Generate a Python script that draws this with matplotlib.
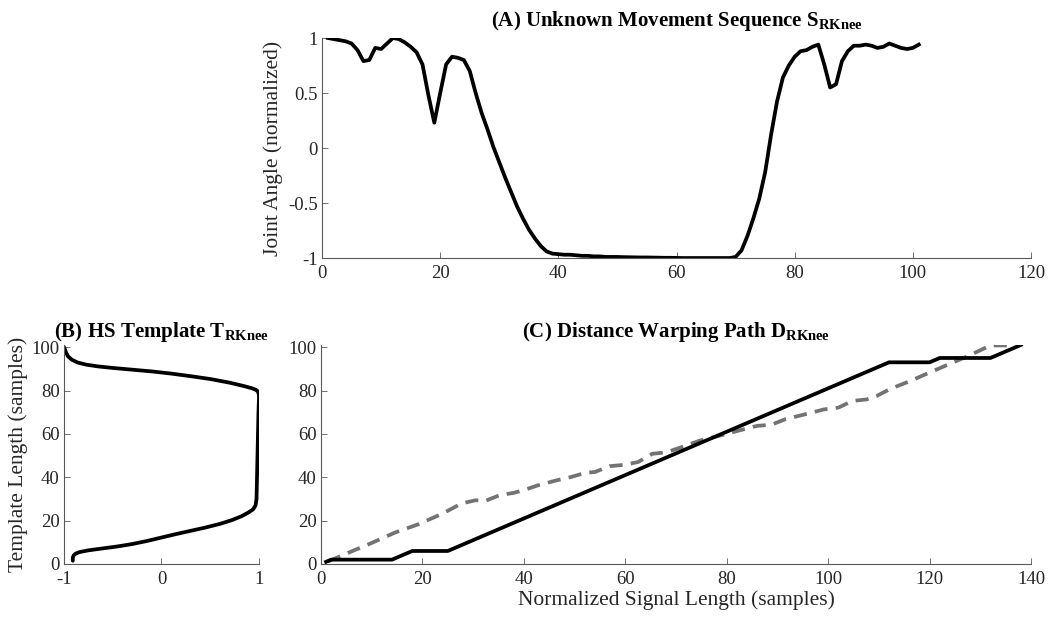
import numpy as np
import matplotlib
matplotlib.use('Agg')
import matplotlib.pyplot as plt

plt.rcParams['font.family'] = 'Liberation Serif'
plt.rcParams['mathtext.fontset'] = 'custom'
plt.rcParams['mathtext.rm'] = 'Liberation Serif'
plt.rcParams['mathtext.bf'] = 'Liberation Serif:bold'
plt.rcParams['axes.unicode_minus'] = False

# (A) unknown movement sequence, samples 1..101
seq_x = np.arange(1, 102)
seq_y = [1.00, 0.99, 0.98, 0.97, 0.95, 0.89, 0.79, 0.80, 0.91, 0.90,
         0.95, 1.00, 0.99, 0.96, 0.92, 0.87, 0.76, 0.48, 0.23, 0.50,
         0.76, 0.83, 0.82, 0.80, 0.70, 0.50, 0.32, 0.17, 0.01, -0.13,
         -0.27, -0.40, -0.53, -0.64, -0.74, -0.82, -0.89, -0.94, -0.96, -0.965,
         -0.97, -0.97, -0.975, -0.98, -0.98, -0.985, -0.985, -0.99, -0.99, -0.99,
         -0.992, -0.993, -0.994, -0.995, -0.995, -0.996, -0.997, -0.998, -0.998, -0.999,
         -1.0, -1.0, -1.0, -1.0, -1.0, -1.0, -1.0, -1.0, -1.0, -0.99,
         -0.93, -0.80, -0.64, -0.46, -0.22, 0.12, 0.42, 0.64, 0.75, 0.83,
         0.88, 0.89, 0.92, 0.94, 0.76, 0.55, 0.58, 0.79, 0.88, 0.93,
         0.93, 0.94, 0.93, 0.91, 0.92, 0.95, 0.93, 0.91, 0.90, 0.91,
         0.94]

# (B) HS template (angle vs template sample)
tmpl_x = [-0.91, -0.91, -0.90, -0.88, -0.84, -0.75, -0.60, -0.45, -0.30, -0.15,
          0.00, 0.15, 0.30, 0.45, 0.60, 0.72, 0.82, 0.89, 0.94, 0.965,
          0.975, 0.98, 0.985, 0.99, 0.995, 1.00, 1.00, 0.99, 0.97, 0.93,
          0.85, 0.70, 0.50, 0.30, 0.10, -0.10, -0.30, -0.50, -0.65, -0.77,
          -0.86, -0.92, -0.96, -0.98, -1.00]
tmpl_y = [1.5, 3.0, 4.0, 4.8, 5.5, 6.3, 7.2, 8.1, 9.2, 10.6,
          12.2, 13.8, 15.3, 16.8, 18.5, 20.2, 22.0, 23.7, 25.2, 27.0,
          30.0, 40.0, 50.0, 60.0, 70.0, 76.0, 78.0, 79.5, 80.3, 81.0,
          82.0, 83.6, 85.3, 86.6, 87.8, 88.8, 89.6, 90.4, 91.1, 91.9,
          92.9, 94.2, 95.8, 97.6, 100.0]

# (C) warping paths
path_x = [1, 2, 14, 18, 25, 112, 120, 122, 132, 138]
path_y = [1, 2, 2, 6, 6, 93, 93, 95, 95, 101]
dash_x = [1.4, 5.2, 9.9, 14.6, 19.3, 24.0, 27.7, 30.5, 32.3, 35.2, 38.0, 39.9,
          42.8, 46.5, 49.3, 52.2, 54.0, 56.9, 59.7, 62.5, 65.3, 68.1, 71.0,
          74.7, 78.5, 82.2, 86.0, 88.8, 91.6, 95.4, 99.2, 102.0, 104.8, 107.6,
          109.5, 112.3, 116.1, 119.8, 123.6, 127.4, 130.2, 132.0, 134.9, 136.8]
dash_y = [1.2, 5.0, 9.6, 14.5, 18.4, 23.3, 27.9, 29.4, 29.0, 31.7, 32.8, 34.0,
          36.3, 38.6, 40.1, 42.1, 42.4, 45.1, 45.7, 47.0, 50.8, 51.5, 53.8,
          56.9, 59.1, 61.4, 63.7, 64.2, 66.8, 69.0, 71.3, 72.1, 75.2, 75.9,
          77.4, 80.8, 84.3, 88.1, 91.9, 95.7, 98.8, 100.8, 100.8, 100.0]

tick_col = '0.15'
fs = 13.5
lab_fs = 15.5
title_fs = 15


def style(ax):
    for s in ['top', 'right']:
        ax.spines[s].set_visible(False)
    for s in ['left', 'bottom']:
        ax.spines[s].set_color('0.35')
        ax.spines[s].set_linewidth(0.8)
    ax.tick_params(direction='in', length=4, width=0.6, color='0.35',
                   labelcolor=tick_col, labelsize=fs, pad=3)
    ax.tick_params(axis='x', pad=5)


fig = plt.figure(figsize=(10.48, 6.21), dpi=100)

axA = fig.add_axes([0.3073, 0.5845, 0.6765, 0.3543])
axA.plot(seq_x, seq_y, color='k', lw=2.7)
axA.set_xlim(0, 120)
axA.set_ylim(-1, 1)
axA.set_xticks([0, 20, 40, 60, 80, 100, 120])
axA.set_yticks([-1, -0.5, 0, 0.5, 1])
axA.set_yticklabels(['-1', '-0.5', '0', '0.5', '1'])
axA.set_ylabel('Joint Angle (normalized)', fontsize=lab_fs, color=tick_col)
axA.set_title(r'(A) Unknown Movement Sequence S$_{\mathbf{RKnee}}$',
              fontsize=title_fs, fontweight='bold', pad=9)
style(axA)

axB = fig.add_axes([0.0611, 0.0918, 0.186, 0.3527])
axB.plot(tmpl_x, tmpl_y, color='k', lw=2.7, solid_capstyle='round')
axB.set_xlim(-1, 1)
axB.set_ylim(0, 101)
axB.set_xticks([-1, 0, 1])
axB.set_xticklabels(['-1', '0', '1'])
axB.set_yticks([0, 20, 40, 60, 80, 100])
axB.set_ylabel('Template Length (samples)', fontsize=lab_fs, color=tick_col,
               labelpad=3)
axB.set_title(r'(B) HS Template T$_{\mathbf{RKnee}}$',
              fontsize=title_fs, fontweight='bold', pad=6)
style(axB)

axC = fig.add_axes([0.3063, 0.0918, 0.6775, 0.3527])
axC.plot(dash_x, dash_y, color='0.45', lw=2.7, ls=(0, (3.5, 2.2)))
axC.plot(path_x, path_y, color='k', lw=2.7)
axC.set_xlim(0, 140)
axC.set_ylim(0, 101)
axC.set_xticks([0, 20, 40, 60, 80, 100, 120, 140])
axC.set_yticks([0, 20, 40, 60, 80, 100])
axC.set_xlabel('Normalized Signal Length (samples)', fontsize=lab_fs,
               color=tick_col, labelpad=2)
axC.set_title(r'(C) Distance Warping Path D$_{\mathbf{RKnee}}$',
              fontsize=title_fs, fontweight='bold', pad=6)
style(axC)

fig.savefig('out.png', dpi=100)
